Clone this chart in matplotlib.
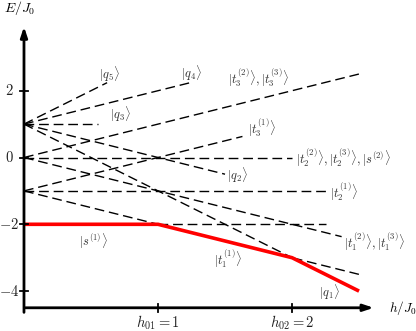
import matplotlib
matplotlib.use("Agg")
import matplotlib.pyplot as plt

plt.rcParams["mathtext.fontset"] = "cm"
plt.rcParams["font.family"] = "serif"
plt.rcParams["font.serif"] = ["DejaVu Serif"]

# dashed levels: (h_start, E_start, h_end, E_end)
level_h0 = [0, 0, 0, 0, 0, 0, 0, 0, 0, 0, 0, 1]
level_E0 = [1, 1, 1, 1, 1, 0, -1, 0, -1, 0, -1, -2]
level_h1 = [0.62, 1.25, 0.55, 1.5, 2.0, 2.5, 1.63, 2.0, 2.25, 2.37, 2.5, 2.25]
level_E1 = [2.24, 2.25, 1.0, -0.5, -3.0, 2.5, 0.63, 0.0, -1.0, -2.37, -3.5, -2.0]

# ground state (red)
ground_h = [0, 1, 2, 2.5]
ground_E = [-2, -2, -3, -4]

y_ticks = [2, 0, -2, -4]
x_ticks = [1, 2]
x_tick_labels = [r"$h_{01}=1$", r"$h_{02}=2$"]

# state labels: (text, x, y, ha)
labels = [
    (r"$|q_5\rangle$", 0.64, 2.50, "center"),
    (r"$|q_4\rangle$", 1.25, 2.53, "center"),
    (r"$|q_3\rangle$", 0.72, 1.31, "center"),
    (r"$|t_3^{(2)}\rangle,|t_3^{(3)}\rangle$", 1.75, 2.38, "center"),
    (r"$|t_3^{(1)}\rangle$", 1.78, 0.90, "center"),
    (r"$|t_2^{(2)}\rangle,|t_2^{(3)}\rangle,|s^{(2)}\rangle$", 2.03, 0.0, "left"),
    (r"$|q_2\rangle$", 1.59, -0.53, "center"),
    (r"$|t_2^{(1)}\rangle$", 2.28, -1.03, "left"),
    (r"$|t_1^{(2)}\rangle,|t_1^{(3)}\rangle$", 2.39, -2.53, "left"),
    (r"$|t_1^{(1)}\rangle$", 1.52, -3.02, "center"),
    (r"$|q_1\rangle$", 2.28, -4.02, "center"),
    (r"$|s^{(1)}\rangle$", 0.52, -2.52, "center"),
]

fig = plt.figure(figsize=(4.16, 3.31), dpi=100)
ax = fig.add_axes([0, 0, 1, 1])
ax.set_xlim(-0.179, 2.925)
ax.set_ylim(-5.195, 4.716)
ax.axis("off")

for h0, e0, h1, e1 in zip(level_h0, level_E0, level_h1, level_E1):
    ax.plot([h0, h1], [e0, e1], color="k", lw=1.0, dashes=(7, 3.5))
ax.plot(ground_h, ground_E, color="red", lw=2.6, solid_capstyle="butt")

# axes with arrows
ax.annotate("", xy=(2.63, -4.5), xytext=(-0.01, -4.5),
            arrowprops=dict(arrowstyle="-|>,head_length=0.6,head_width=0.2", lw=2, color="k"))
ax.annotate("", xy=(0, 4.0), xytext=(0, -4.72),
            arrowprops=dict(arrowstyle="-|>,head_length=0.6,head_width=0.2", lw=2, color="k"))
for e in y_ticks:
    ax.plot([-0.03, 0.03], [e, e], color="k", lw=1.3)
    ax.text(-0.112, e, r"$%d$" % e, ha="center", va="center", fontsize=10.5, color="#222222")
for h, lab in zip(x_ticks, x_tick_labels):
    ax.plot([h, h], [-4.62, -4.38], color="k", lw=1.3)
    ax.text(h, -4.96, lab, ha="center", va="center", fontsize=10.5, color="#222222")
ax.text(2.825, -4.5, r"$h/J_0$", ha="center", va="center", fontsize=9.5)
ax.text(-0.03, 4.47, r"$E/J_0$", ha="center", va="center", fontsize=10)

for txt, x, y, ha in labels:
    ax.text(x, y, txt, ha=ha, va="center", fontsize=9, color="#333333")

fig.savefig("out.png", dpi=100)
